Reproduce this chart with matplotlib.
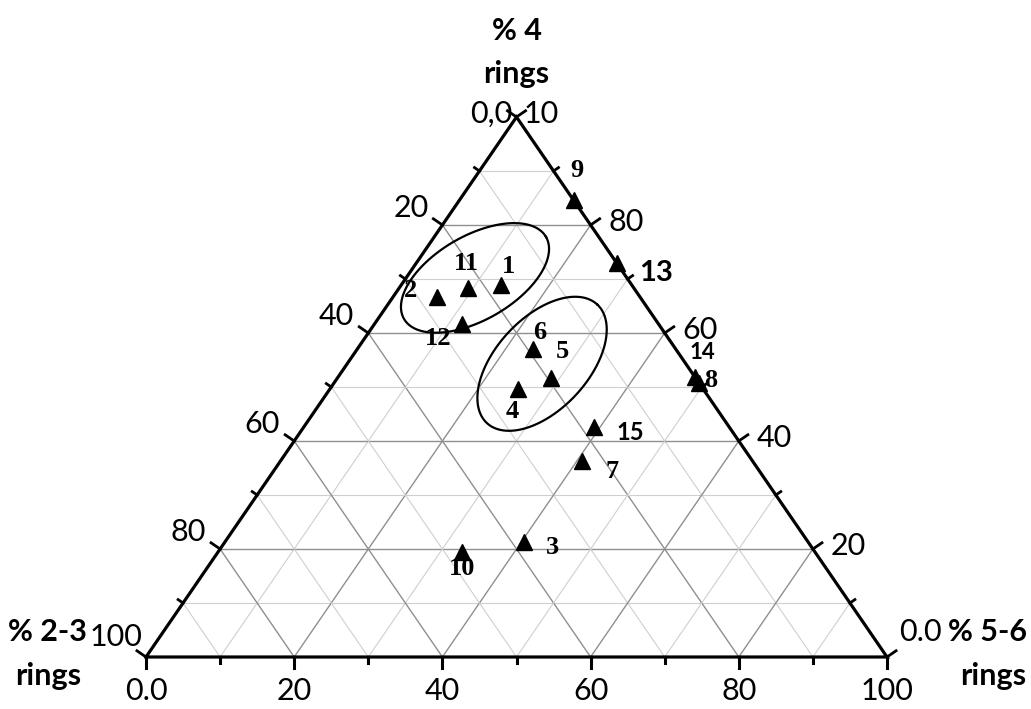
import numpy as np
import matplotlib
matplotlib.use('Agg')
import matplotlib.pyplot as plt

# ternary data: % 2-3 rings (a), % 4 rings (t), % 5-6 rings (b)
sample_ids = ['1', '2', '3', '4', '5', '6', '7', '8', '9', '10',
              '11', '12', '13', '14', '15']
pct_4_rings = [68.9, 66.7, 21.3, 49.6, 51.7, 57.0, 36.3, 50.7, 84.6, 19.4,
               68.3, 61.7, 73.0, 51.9, 42.6]
pct_56_rings = [13.5, 5.9, 40.4, 25.4, 28.8, 23.7, 40.7, 49.3, 15.4, 32.9,
                9.3, 11.8, 27.0, 48.1, 39.2]
pct_23_rings = [100 - t - b for t, b in zip(pct_4_rings, pct_56_rings)]

bottom_ticks = [0, 20, 40, 60, 80, 100]
left_tick_labels = ['20', '40', '60', '80', '100']     # % 2-3 rings
right_tick_labels = ['20', '40', '60', '80']           # % 4 rings

# label offsets in pixels (layout only)
label_offsets = {
    '1': (7, 18), '2': (-26, 6), '3': (28, -6), '4': (-6, -22), '5': (11, 26),
    '6': (7, 17), '7': (30, -11), '8': (12, 3), '9': (3, 30), '10': (0, -16),
    '11': (-2, 25), '12': (-24, -15), '13': (40, -10), '14': (8, 24), '15': (36, -6),
}
sans_labels = {'13': 21, '14': 16, '15': 17}

W, H = 1031, 709
x0, y0, w, h = 146, 657, 741, 540
PX = w / 100.0   # pixels per x unit
PY = h / 100.0   # pixels per y unit


def tern(b, t):
    return b + t / 2.0, t


fig = plt.figure(figsize=(W / 100, H / 100), dpi=100)
ax = fig.add_axes([x0 / W, (H - y0) / H, w / W, h / H])
ax.set_xlim(0, 100)
ax.set_ylim(0, 100)
ax.axis('off')

# grid
for k in range(1, 10):
    v = k * 10
    col = '#8f8f8f' if k % 2 == 0 else '#cfcfcf'
    lw = 1.0 if k % 2 == 0 else 0.8
    # constant % 4
    xa, ya = tern(0, v)
    xb, yb = tern(100 - v, v)
    ax.plot([xa, xb], [ya, yb], color=col, lw=lw, zorder=1)
    # constant % 5-6
    xa, ya = tern(v, 0)
    xb, yb = tern(v, 100 - v)
    ax.plot([xa, xb], [ya, yb], color=col, lw=lw, zorder=1)
    # constant % 2-3
    xa, ya = tern(100 - v, 0)
    xb, yb = tern(0, 100 - v)
    ax.plot([xa, xb], [ya, yb], color=col, lw=lw, zorder=1)

# frame
ax.plot([0, 100, 50, 0], [0, 0, 100, 0], color='black', lw=2.3,
        solid_joinstyle='miter', zorder=3, clip_on=False)

# ticks
nl = np.array([-540, 370.5]); nl = nl / np.linalg.norm(nl)
nr = np.array([540, 370.5]); nr = nr / np.linalg.norm(nr)
for k in range(0, 11):
    v = k * 10
    L = 11 if k % 2 == 0 else 6
    # bottom
    ax.plot([v, v], [0, -L / PY], color='black', lw=2.2, clip_on=False, zorder=3)
    # left edge (b = 0, t = v)
    xe, ye = tern(0, v)
    ax.plot([xe, xe + L * nl[0] / PX], [ye, ye + L * nl[1] / PY],
            color='black', lw=2.0, clip_on=False, zorder=3)
    # right edge (a = 0, t = v)
    xe, ye = tern(100 - v, v)
    ax.plot([xe, xe + L * nr[0] / PX], [ye, ye + L * nr[1] / PY],
            color='black', lw=2.0, clip_on=False, zorder=3)

tick_font = dict(family='Lato', fontsize=22, color='black')
for v in bottom_ticks:
    lab = '0.0' if v == 0 else str(v)
    ax.annotate(lab, (v, 0), xytext=(0, -34), textcoords='offset pixels',
                ha='center', va='center', **tick_font)
for lab in left_tick_labels:
    t = 100 - int(lab)
    off = (-4, 20) if lab == '100' else (-14, 17)
    ax.annotate(lab, tern(0, t), xytext=off, textcoords='offset pixels',
                ha='right', va='center', **tick_font)
for lab in right_tick_labels:
    t = int(lab)
    ax.annotate(lab, tern(100 - t, t), xytext=(18, 3), textcoords='offset pixels',
                ha='left', va='center', **tick_font)
ax.annotate('0.0', (100, 0), xytext=(12, 25), textcoords='offset pixels',
            ha='left', va='center', **tick_font)
ax.annotate('0,0', (50, 100), xytext=(-4, 3), textcoords='offset pixels',
            ha='right', va='center', **tick_font)
ax.annotate('10', (50, 100), xytext=(7, 3), textcoords='offset pixels',
            ha='left', va='center', **tick_font)

# axis titles
title_font = dict(family='Lato', fontsize=22, fontweight='bold', ha='center', va='center')
ax.annotate('% 4', (50, 100), xytext=(0, 86), textcoords='offset pixels', **title_font)
ax.annotate('rings', (50, 100), xytext=(0, 43), textcoords='offset pixels', **title_font)
ax.annotate('% 2-3', (0, 0), xytext=(-99, 25), textcoords='offset pixels', **title_font)
ax.annotate('rings', (0, 0), xytext=(-98, -19), textcoords='offset pixels', **title_font)
ax.annotate('% 5-6', (100, 0), xytext=(100, 25), textcoords='offset pixels', **title_font)
ax.annotate('rings', (100, 0), xytext=(106, -19), textcoords='offset pixels', **title_font)

# points
xs, ys = zip(*[tern(b, t) for b, t in zip(pct_56_rings, pct_4_rings)])
ax.plot(xs, ys, linestyle='', marker='^', markersize=11, color='black', zorder=5)

for sid, x, y in zip(sample_ids, xs, ys):
    dx, dy = label_offsets[sid]
    if sid in sans_labels:
        ax.annotate(sid, (x, y), xytext=(dx, dy), textcoords='offset pixels',
                    ha='center', va='center', family='Lato', fontweight='bold',
                    fontsize=sans_labels[sid], zorder=6)
    else:
        ax.annotate(sid, (x, y), xytext=(dx, dy), textcoords='offset pixels',
                    ha='center', va='center', family='Liberation Serif',
                    fontweight='bold', fontsize=19, zorder=6)

# group ellipses (centre in ternary coords, axes in pixels)
groups = [
    dict(b=9.3, t=70.2, a=82, bmin=42, ang=30),
    dict(b=26.3, t=54.3, a=81, bmin=46, ang=47),
]
th = np.linspace(0, 2 * np.pi, 300)
for g in groups:
    cx, cy = tern(g['b'], g['t'])
    r = np.radians(g['ang'])
    ex = g['a'] * np.cos(th)
    ey = g['bmin'] * np.sin(th)
    px = ex * np.cos(r) - ey * np.sin(r)
    py = ex * np.sin(r) + ey * np.cos(r)
    ax.plot(cx + px / PX, cy + py / PY, color='black', lw=1.6, zorder=4)

fig.savefig('out.png', dpi=100)
